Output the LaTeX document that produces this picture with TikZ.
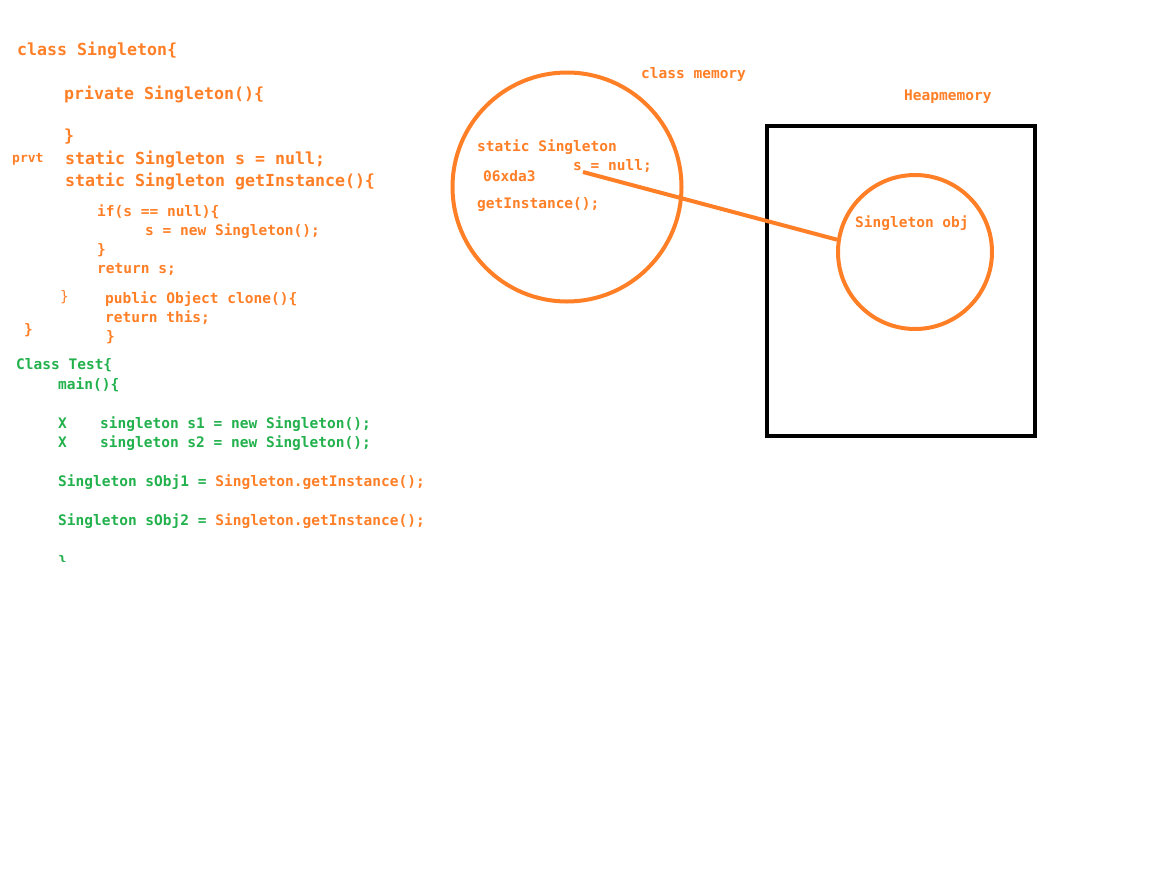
\documentclass[tikz,border=0pt]{standalone}
\usepackage{fontspec}
\setmonofont{DejaVu Sans Mono}
\definecolor{org}{HTML}{FF7F27}
\definecolor{grn}{HTML}{22B14C}
\tikzset{
  big/.style={anchor=base west, inner sep=0pt, text=org, font=\ttfamily\bfseries\fontsize{16.6}{18}\selectfont},
  sm/.style={anchor=base west, inner sep=0pt, text=org, font=\ttfamily\bfseries\fontsize{14.5}{17}\selectfont},
  gsm/.style={sm, text=grn},
  ring/.style={circle, draw=org, line width=4pt, inner sep=0pt},
}
\begin{document}
\begin{tikzpicture}[x=1pt,y=-1pt]
\useasboundingbox (0,0) rectangle (1157,871);
\fill[white] (0,0) rectangle (1157,871);
% Singleton class code
\node[big] (l1) at (17,55) {class Singleton\{};
\node[big] (l2) at (64,99) {private Singleton()\{};
\node[big] (l3) at (64,141) {\}};
\node[sm,font=\ttfamily\bfseries\fontsize{13}{15}\selectfont] (prvt) at (12,162) {prvt};
\node[big] (l4) at (65,164) {static Singleton s = null;};
\node[big] (l5) at (65,186) {static Singleton getInstance()\{};
\node[sm] (l6) at (97,216) {if(s == null)\{};
\node[sm] (l7) at (145,235) {s = new Singleton();};
\node[sm] (l8) at (97,254) {\}};
\node[sm] (l9) at (97,273) {return s;};
\node[sm,font=\ttfamily\fontsize{14.5}{17}\selectfont] (l10) at (60,301) {\}};
\node[sm] (l11) at (105,303) {public Object clone()\{};
\node[sm] (l12) at (105,322) {return this;};
\node[sm] (l13) at (24,334) {\}};
\node[sm] (l14) at (106,341) {\}};
% Test class
\node[gsm] (t1) at (16,369) {Class Test\{};
\node[gsm] (t2) at (58,389) {main()\{};
\node[gsm] (t3x) at (58,428) {X};
\node[gsm] (t3) at (100,428) {singleton s1 = new Singleton();};
\node[gsm] (t4x) at (58,447) {X};
\node[gsm] (t4) at (100,447) {singleton s2 = new Singleton();};
\node[gsm] (t5) at (58,486) {Singleton sObj1 = \textcolor{org}{Singleton.getInstance();}};
\node[gsm] (t6) at (58,525) {Singleton sObj2 = \textcolor{org}{Singleton.getInstance();}};
\begin{scope}
\clip (0,0) rectangle (200,561);
\node[gsm] (t7) at (58,566) {\}};
\end{scope}
% class memory
\node[ring, minimum size=229pt] (cm) at (567,187) {};
\node[sm] (cmlab) at (641,78) {class memory};
\node[sm] (c1) at (477,151) {static Singleton};
\node[sm] (c2) at (573,170) {s = null;};
\node[sm] (c3) at (483,181) {06xda3};
\node[sm] (c4) at (477,208) {getInstance();};
\coordinate (sref) at (583,172);
% heap memory
\node[draw=black, line width=4pt, inner sep=0pt, minimum width=268pt, minimum height=310pt] (heap) at (901,281) {};
\node[sm] (hlab) at (904,100) {Heapmemory};
\node[ring, minimum size=154pt] (obj) at (915,252) {};
\node[sm] (olab) at (855,227) {Singleton obj};
\draw[org, line width=4pt] (sref) -- (obj.171);
\end{tikzpicture}
\end{document}
